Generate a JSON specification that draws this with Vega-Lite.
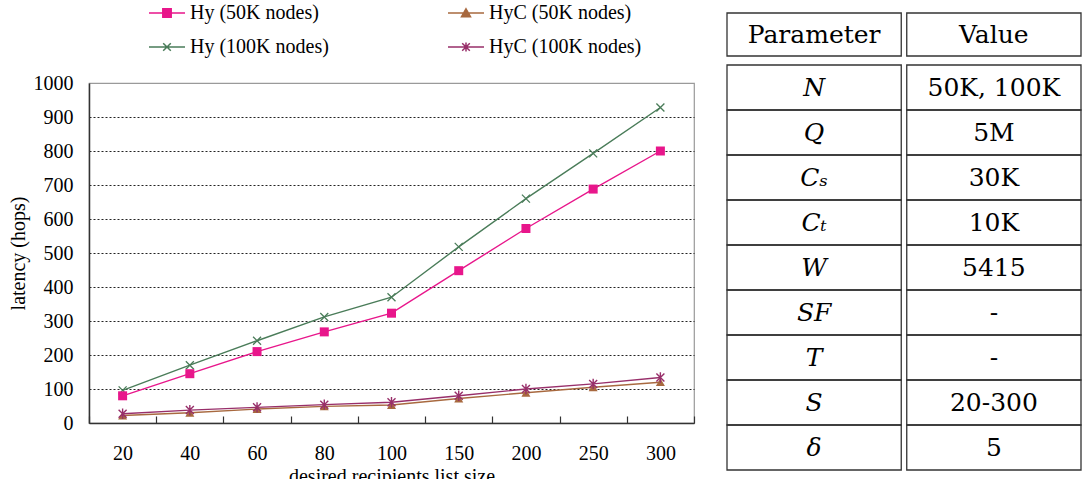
{
  "$schema": "https://vega.github.io/schema/vega-lite/v6.json",
  "padding": {"left": 7, "top": 2, "right": 0, "bottom": 0},
  "background": "white",
  "config": {"font": "Liberation Serif"},
  "spacing": 30,
  "hconcat": [
    {
      "spacing": 15,
      "resolve": {"scale": {"color": "independent"}, "legend": {"color": "independent"}},
      "vconcat": [
        {
          "width": 605,
          "height": 26,
          "view": {"stroke": null},
          "data": {"values": [
            {"series": "Hy (50K nodes)"},
            {"series": "HyC (50K nodes)"},
            {"series": "Hy (100K nodes)"},
            {"series": "HyC (100K nodes)"}
          ]},
          "mark": {"type": "line", "strokeWidth": 1.5},
          "encoding": {
            "color": {
              "field": "series", "type": "nominal",
              "scale": {"domain": ["Hy (50K nodes)", "HyC (50K nodes)", "Hy (100K nodes)", "HyC (100K nodes)"], "range": ["#e8168b", "#a8693f", "#4a7c59", "#982f6a"]},
              "legend": {
                "orient": "none", "legendX": 67, "legendY": -11, "direction": "horizontal", "columns": 2, "title": null,
                "symbolSize": 400, "symbolStrokeWidth": 1.5,
                "labelFont": "Liberation Serif", "labelFontSize": 20, "labelColor": "black", "labelLimit": 300,
                "labelOffset": 12, "columnPadding": 116, "rowPadding": 13, "padding": 0,
                "encode": {
                  "symbols": {
                    "update": {
                      "shape": {"signal": "datum.value === 'Hy (50K nodes)' ? 'M-1.8,0L1.8,0M-0.42,-0.42L0.42,-0.42L0.42,0.42L-0.42,0.42Z' : datum.value === 'HyC (50K nodes)' ? 'M-1.8,0L1.8,0M0,-0.42L0.45,0.38L-0.45,0.38Z' : datum.value === 'Hy (100K nodes)' ? 'M-1.8,0L1.8,0M-0.38,-0.38L0.38,0.38M-0.38,0.38L0.38,-0.38' : 'M-1.8,0L1.8,0M-0.38,-0.38L0.38,0.38M-0.38,0.38L0.38,-0.38M0,-0.45L0,0.45'"},
                      "stroke": {"signal": "datum.value === 'Hy (50K nodes)' ? '#e8168b' : datum.value === 'HyC (50K nodes)' ? '#a8693f' : datum.value === 'Hy (100K nodes)' ? '#4a7c59' : '#982f6a'"},
                      "fill": {"signal": "datum.value === 'Hy (50K nodes)' ? '#e8168b' : datum.value === 'HyC (50K nodes)' ? '#a8693f' : datum.value === 'Hy (100K nodes)' ? '#4a7c59' : '#982f6a'"},
                      "strokeWidth": {"value": 1.5},
                      "opacity": {"value": 1}
                    }
                  }
                }
              }
            }
          }
        },
        {
          "width": 605,
          "height": 340,
          "view": {"stroke": "#9a9a9a", "strokeWidth": 1.2},
          "data": {"values": [
            {"s": 20, "series": "Hy (50K nodes)", "latency": 80},
            {"s": 40, "series": "Hy (50K nodes)", "latency": 145},
            {"s": 60, "series": "Hy (50K nodes)", "latency": 210},
            {"s": 80, "series": "Hy (50K nodes)", "latency": 268},
            {"s": 100, "series": "Hy (50K nodes)", "latency": 323},
            {"s": 150, "series": "Hy (50K nodes)", "latency": 448},
            {"s": 200, "series": "Hy (50K nodes)", "latency": 572},
            {"s": 250, "series": "Hy (50K nodes)", "latency": 688},
            {"s": 300, "series": "Hy (50K nodes)", "latency": 800},
            {"s": 20, "series": "Hy (100K nodes)", "latency": 96},
            {"s": 40, "series": "Hy (100K nodes)", "latency": 170},
            {"s": 60, "series": "Hy (100K nodes)", "latency": 242},
            {"s": 80, "series": "Hy (100K nodes)", "latency": 312},
            {"s": 100, "series": "Hy (100K nodes)", "latency": 370},
            {"s": 150, "series": "Hy (100K nodes)", "latency": 518},
            {"s": 200, "series": "Hy (100K nodes)", "latency": 660},
            {"s": 250, "series": "Hy (100K nodes)", "latency": 793},
            {"s": 300, "series": "Hy (100K nodes)", "latency": 928},
            {"s": 20, "series": "HyC (50K nodes)", "latency": 22},
            {"s": 40, "series": "HyC (50K nodes)", "latency": 30},
            {"s": 60, "series": "HyC (50K nodes)", "latency": 41},
            {"s": 80, "series": "HyC (50K nodes)", "latency": 49},
            {"s": 100, "series": "HyC (50K nodes)", "latency": 53},
            {"s": 150, "series": "HyC (50K nodes)", "latency": 72},
            {"s": 200, "series": "HyC (50K nodes)", "latency": 89},
            {"s": 250, "series": "HyC (50K nodes)", "latency": 105},
            {"s": 300, "series": "HyC (50K nodes)", "latency": 120},
            {"s": 20, "series": "HyC (100K nodes)", "latency": 27},
            {"s": 40, "series": "HyC (100K nodes)", "latency": 38},
            {"s": 60, "series": "HyC (100K nodes)", "latency": 46},
            {"s": 80, "series": "HyC (100K nodes)", "latency": 54},
            {"s": 100, "series": "HyC (100K nodes)", "latency": 61},
            {"s": 150, "series": "HyC (100K nodes)", "latency": 80},
            {"s": 200, "series": "HyC (100K nodes)", "latency": 100},
            {"s": 250, "series": "HyC (100K nodes)", "latency": 115},
            {"s": 300, "series": "HyC (100K nodes)", "latency": 134}
          ]},
          "encoding": {
            "x": {
              "field": "s", "type": "ordinal",
              "scale": {"type": "band", "paddingInner": 0, "paddingOuter": 0},
              "axis": {
                "title": "desired recipients list size",
                "titleFont": "Liberation Serif", "titleFontSize": 20, "titleFontWeight": "normal", "titleColor": "black", "titlePadding": 3,
                "labelAngle": 0, "labelFont": "Liberation Serif", "labelFontSize": 20, "labelColor": "black", "labelPadding": 27,
                "tickBand": "extent", "tickSize": -7, "tickColor": "#333", "tickWidth": 1.2,
                "domainColor": "#333", "domainWidth": 1.5, "grid": false
              }
            },
            "y": {
              "field": "latency", "type": "quantitative",
              "scale": {"domain": [0, 1000], "nice": false},
              "axis": {
                "title": "latency (hops)", "values": [0, 100, 200, 300, 400, 500, 600, 700, 800, 900, 1000], "format": "d",
                "titleFont": "Liberation Serif", "titleFontSize": 20, "titleFontWeight": "normal", "titleColor": "black", "titlePadding": 5,
                "labelFont": "Liberation Serif", "labelFontSize": 20, "labelColor": "black", "labelPadding": 16,
                "ticks": false, "domainColor": "#333", "domainWidth": 1.5,
                "grid": true, "gridColor": "#222", "gridDash": [2, 2], "gridWidth": 1,
                "gridOpacity": {"condition": {"test": "datum.value === 1000 || datum.value === 0", "value": 0}, "value": 1}
              }
            }
          },
          "layer": [
            {
              "mark": {"type": "line", "strokeWidth": 1.4},
              "encoding": {
                "color": {
                  "field": "series", "type": "nominal", "legend": null,
                  "scale": {"domain": ["Hy (50K nodes)", "HyC (50K nodes)", "Hy (100K nodes)", "HyC (100K nodes)"], "range": ["#e8168b", "#a8693f", "#4a7c59", "#982f6a"]}
                }
              }
            },
            {
              "transform": [{"filter": "datum.series === 'HyC (50K nodes)'"}],
              "mark": {"type": "point", "shape": "triangle-up", "filled": true, "size": 81, "color": "#a8693f", "opacity": 1},
              "encoding": {}
            },
            {
              "transform": [{"filter": "datum.series === 'HyC (100K nodes)'"}],
              "mark": {"type": "point", "shape": "M-1,-1L1,1M-1,1L1,-1M0,-1.3L0,1.3", "filled": false, "size": 64, "color": "#982f6a", "strokeWidth": 1.4, "opacity": 1},
              "encoding": {}
            },
            {
              "transform": [{"filter": "datum.series === 'Hy (100K nodes)'"}],
              "mark": {"type": "point", "shape": "M-1,-1L1,1M-1,1L1,-1", "filled": false, "size": 64, "color": "#4a7c59", "strokeWidth": 1.3, "opacity": 1},
              "encoding": {}
            },
            {
              "transform": [{"filter": "datum.series === 'Hy (50K nodes)'"}],
              "mark": {"type": "point", "shape": "square", "filled": true, "size": 81, "color": "#e8168b", "opacity": 1},
              "encoding": {}
            }
          ]
        }
      ]
    },
    {
      "spacing": 7,
      "vconcat": [
        {
          "width": 354,
          "height": 43,
          "view": {"stroke": null},
          "data": {"values": [
            {"col": "Parameter", "text": "Parameter"},
            {"col": "Value", "text": "Value"}
          ]},
          "encoding": {
            "x": {"field": "col", "type": "nominal", "axis": null, "scale": {"type": "band", "domain": ["Parameter", "Value"], "paddingInner": 0.0306, "paddingOuter": 0}}
          },
          "layer": [
            {"mark": {"type": "rect", "filled": false, "stroke": "#333", "strokeWidth": 1.3}},
            {"mark": {"type": "text", "font": "DejaVu Serif", "fontSize": 25, "color": "black"}, "encoding": {"text": {"field": "text"}}}
          ]
        },
        {
          "width": 354,
          "height": 405,
          "view": {"stroke": null},
          "data": {"values": [
            {"row": "N", "col": "Parameter", "text": "N"},
            {"row": "N", "col": "Value", "text": "50K, 100K"},
            {"row": "Q", "col": "Parameter", "text": "Q"},
            {"row": "Q", "col": "Value", "text": "5M"},
            {"row": "Cs", "col": "Parameter", "text": "Cₛ"},
            {"row": "Cs", "col": "Value", "text": "30K"},
            {"row": "Ct", "col": "Parameter", "text": "Cₜ"},
            {"row": "Ct", "col": "Value", "text": "10K"},
            {"row": "W", "col": "Parameter", "text": "W"},
            {"row": "W", "col": "Value", "text": "5415"},
            {"row": "SF", "col": "Parameter", "text": "SF"},
            {"row": "SF", "col": "Value", "text": "-"},
            {"row": "T", "col": "Parameter", "text": "T"},
            {"row": "T", "col": "Value", "text": "-"},
            {"row": "S", "col": "Parameter", "text": "S"},
            {"row": "S", "col": "Value", "text": "20-300"},
            {"row": "delta", "col": "Parameter", "text": "δ"},
            {"row": "delta", "col": "Value", "text": "5"}
          ]},
          "encoding": {
            "x": {"field": "col", "type": "nominal", "axis": null, "scale": {"type": "band", "domain": ["Parameter", "Value"], "paddingInner": 0.0306, "paddingOuter": 0}},
            "y": {"field": "row", "type": "nominal", "axis": null, "scale": {"type": "band", "domain": ["N", "Q", "Cs", "Ct", "W", "SF", "T", "S", "delta"], "paddingInner": 0, "paddingOuter": 0}}
          },
          "layer": [
            {"mark": {"type": "rect", "filled": false, "stroke": "#333", "strokeWidth": 1.3}},
            {"transform": [{"filter": "datum.col === 'Parameter'"}], "mark": {"type": "text", "font": "DejaVu Serif", "fontSize": 25, "fontStyle": "italic", "color": "black"}, "encoding": {"text": {"field": "text"}}},
            {"transform": [{"filter": "datum.col === 'Value'"}], "mark": {"type": "text", "font": "DejaVu Serif", "fontSize": 25, "color": "black"}, "encoding": {"text": {"field": "text"}}}
          ]
        }
      ]
    }
  ]
}
